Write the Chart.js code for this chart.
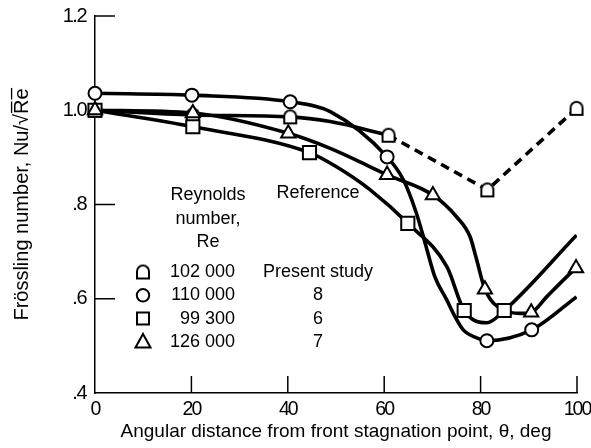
<!DOCTYPE html>
<html><head><meta charset="utf-8">
<script src="https://cdn.jsdelivr.net/npm/chart.js@4.4.1/dist/chart.umd.min.js"></script>
<style>html,body{margin:0;padding:0;background:#fff}#wrap{width:591px;height:448px}</style>
</head><body><div id="wrap"><canvas id="c" width="591" height="448"></canvas></div>
<script>
// ---- axis ticks ----
const xTicks = [0, 20, 40, 60, 80, 100];
const xTickLabels = ['0', '20', '40', '60', '80', '100'];
const yTicks = [0.4, 0.6, 0.8, 1.0, 1.2];
const yTickLabels = ['.4', '.6', '.8', '1.0', '1.2'];

// ---- legend table ----
const reynoldsNumbers = ['102 000', '110 000', '99 300', '126 000'];
const referenceLabels = ['Present study', '8', '6', '7'];

// ---- data points (angle, deg ; Frossling number) ----
const presentX = [0, 20.3, 40.5, 60.9, 81.4, 99.9];
const presentY = [1.0, 0.99, 0.986, 0.947, 0.831, 1.004];
const ref8X = [0, 20.1, 40.5, 60.6, 81.3, 90.6];
const ref8Y = [1.036, 1.032, 1.018, 0.901, 0.511, 0.534];
const ref6X = [0, 20.3, 44.5, 64.9, 76.6, 84.9];
const ref6Y = [1.0, 0.965, 0.910, 0.760, 0.575, 0.575];
const ref7X = [0, 20.3, 40.1, 60.6, 70.1, 80.9, 90.5, 99.8];
const ref7Y = [1.0, 0.994, 0.951, 0.863, 0.820, 0.620, 0.571, 0.665];

// ---- faired curves ----
const presentSolidX = [0, 20.3, 40.5, 48.8, 60.9];
const presentSolidY = [1.0, 0.99, 0.986, 0.976, 0.947];
const presentDashX = [60.9, 81.4, 99.9];
const presentDashY = [0.947, 0.831, 1.004];
const curve8X = [0, 20.1, 40.5, 48.8, 60.6, 64.0, 66.7, 68.5, 70.5, 73.0, 74.7, 76.4, 79.2, 81.3, 90.6, 99.9];
const curve8Y = [1.036, 1.032, 1.018, 0.997, 0.901, 0.852, 0.781, 0.718, 0.647, 0.597, 0.562, 0.534, 0.517, 0.511, 0.534, 0.604];
const curve6X = [0, 20.3, 44.5, 50.1, 57.1, 64.9, 73.0, 76.6, 81.3, 84.9, 99.9];
const curve6Y = [1.0, 0.965, 0.910, 0.880, 0.831, 0.760, 0.668, 0.575, 0.549, 0.575, 0.735];
const curve7X = [0, 20.3, 40.1, 48.8, 57.1, 60.6, 70.1, 75.0, 77.8, 79.2, 80.9, 84.9, 88.2, 90.5, 93.7, 97.9, 99.8];
const curve7Y = [1.0, 0.994, 0.951, 0.919, 0.880, 0.863, 0.820, 0.774, 0.732, 0.682, 0.620, 0.575, 0.569, 0.571, 0.604, 0.647, 0.665];

const pts = (xs, ys) => xs.map((x, i) => ({x, y: ys[i]}));
const FONT = "'Liberation Sans', Arial, sans-serif";

function makeArch(w, h, lw) {
  const c = document.createElement('canvas');
  c.width = w + lw * 2; c.height = h + lw * 2;
  const g = c.getContext('2d');
  const r = w / 2, cx = c.width / 2, top = lw, bottom = lw + h;
  g.beginPath();
  g.moveTo(cx - r, bottom); g.lineTo(cx - r, top + r);
  g.arc(cx, top + r, r, Math.PI, 0); g.lineTo(cx + r, bottom); g.closePath();
  g.fillStyle = '#fff'; g.fill();
  g.lineWidth = lw; g.strokeStyle = '#000'; g.stroke();
  return c;
}
const arch = makeArch(12, 13, 2);

const markerStyles = [
  {style: arch, r: 8},
  {style: 'circle', r: 6.5},
  {style: 'rect', r: 9.3},
  {style: 'triangle', r: 8.2}
];

function curve(xs, ys, extra) {
  return Object.assign({
    data: pts(xs, ys), showLine: true, pointRadius: 0, borderColor: '#000',
    borderWidth: 3.6, cubicInterpolationMode: 'monotone', fill: false, order: 2
  }, extra || {});
}
function markers(xs, ys, m) {
  return {
    data: pts(xs, ys), showLine: false, pointStyle: m.style, pointRadius: m.r,
    pointBackgroundColor: '#fff', pointBorderColor: '#000', pointBorderWidth: 2,
    order: 1, clip: false
  };
}

const labelSpacing = {x: '-2px', y: '-1.5px'};

const decor = {
  id: 'decor',
  afterLayout(chart) {
    // tighter letter spacing for the tick numerals (condensed look of the original)
    ['x', 'y'].forEach(id => {
      const s = chart.scales[id];
      if (s && !s._tightLabels) {
        const orig = s.drawLabels.bind(s);
        s.drawLabels = function (area) {
          const c = this.ctx; c.save(); c.letterSpacing = labelSpacing[id]; orig(area); c.restore();
        };
        s._tightLabels = true;
      }
    });
  },
  beforeDatasetsDraw(chart) {
    const {ctx, scales: {x, y}} = chart;
    ctx.save();
    ctx.strokeStyle = '#000'; ctx.lineWidth = 1.5;
    xTicks.slice(1).forEach(v => {
      const px = x.getPixelForValue(v);
      ctx.beginPath(); ctx.moveTo(px, y.bottom); ctx.lineTo(px, y.bottom - 17); ctx.stroke();
    });
    yTicks.slice(1).forEach(v => {
      const py = y.getPixelForValue(v);
      ctx.beginPath(); ctx.moveTo(x.left, py); ctx.lineTo(x.left + 20, py); ctx.stroke();
    });
    ctx.restore();
  },
  afterDraw(chart) {
    const {ctx, chartArea: a} = chart;
    ctx.save();
    ctx.fillStyle = '#000';
    ctx.font = '18px ' + FONT;
    ctx.textBaseline = 'middle';
    ctx.textAlign = 'center';
    const cReyn = a.left + 113, cRef = a.left + 223;
    ctx.fillText('Reynolds', cReyn, a.top + 179);
    ctx.fillText('number,', cReyn, a.top + 203);
    ctx.fillText('Re', cReyn, a.top + 226);
    ctx.fillText('Reference', cRef, a.top + 177);
    const mx = a.left + 48, numR = a.left + 140;
    reynoldsNumbers.forEach((t, i) => {
      const yy = a.top + 256 + i * 23.3;
      const m = markerStyles[i];
      ctx.save();
      ctx.lineWidth = 2; ctx.strokeStyle = '#000'; ctx.fillStyle = '#fff';
      if (m.style === 'circle') {
        ctx.beginPath(); ctx.arc(mx, yy, 6.2, 0, Math.PI * 2); ctx.fill(); ctx.stroke();
      } else if (m.style === 'rect') {
        ctx.beginPath(); ctx.rect(mx - 6, yy - 6, 12, 12); ctx.fill(); ctx.stroke();
      } else if (m.style === 'triangle') {
        ctx.beginPath(); ctx.moveTo(mx, yy - 8); ctx.lineTo(mx + 7.5, yy + 5.5); ctx.lineTo(mx - 7.5, yy + 5.5); ctx.closePath(); ctx.fill(); ctx.stroke();
      } else {
        ctx.drawImage(m.style, mx - m.style.width / 2, yy - m.style.height / 2);
      }
      ctx.restore();
      ctx.textAlign = 'right';
      ctx.fillText(t, numR, yy);
      ctx.textAlign = 'center';
      ctx.fillText(referenceLabels[i], cRef, yy);
    });
    ctx.restore();
  }
};

new Chart(document.getElementById('c'), {
  type: 'scatter',
  data: {
    datasets: [
      markers(ref7X, ref7Y, markerStyles[3]),
      markers(ref8X, ref8Y, markerStyles[1]),
      markers(ref6X, ref6Y, markerStyles[2]),
      markers(presentX, presentY, markerStyles[0]),
      curve(presentSolidX, presentSolidY),
      curve(presentDashX, presentDashY, {borderDash: [9, 6], cubicInterpolationMode: 'default', tension: 0}),
      curve(curve8X, curve8Y),
      curve(curve6X, curve6Y),
      curve(curve7X, curve7Y)
    ]
  },
  options: {
    responsive: false,
    devicePixelRatio: 1,
    animation: false,
    layout: {padding: {top: 16, right: 14, bottom: 0, left: 0}},
    plugins: {legend: {display: false}, tooltip: {enabled: false}},
    scales: {
      x: {
        type: 'linear', min: 0, max: 100,
        afterBuildTicks(s) { s.ticks = xTicks.map(v => ({value: v})); },
        afterFit(s) { s.height = 55; s.paddingLeft = 0; s.paddingRight = 0; },
        grid: {display: false, drawTicks: false},
        border: {display: true, color: '#000', width: 1.5},
        ticks: {
          padding: 5, color: '#000', font: {family: FONT, size: 19.5}, maxRotation: 0,
          callback: (v) => xTickLabels[xTicks.indexOf(v)]
        },
        title: {
          display: true, text: 'Angular distance from front stagnation point, \u03b8, deg',
          color: '#000', font: {family: FONT, size: 19}, padding: {top: 0, bottom: 5}
        }
      },
      y: {
        type: 'linear', min: 0.4, max: 1.2,
        afterBuildTicks(s) { s.ticks = yTicks.map(v => ({value: v})); },
        afterFit(s) { s.width = 95; s.paddingTop = 0; s.paddingBottom = 0; },
        grid: {display: false, drawTicks: false},
        border: {display: true, color: '#000', width: 1.5},
        ticks: {
          padding: 9, color: '#000', font: {family: FONT, size: 20},
          callback: (v) => yTickLabels[yTicks.findIndex(t => Math.abs(t - v) < 1e-9)]
        },
        title: {
          display: true, text: 'Fr\u00f6ssling number, Nu/\u221aR\u0305e\u0305',
          color: '#000', font: {family: FONT, size: 20}, padding: {top: 10, bottom: 0}
        }
      }
    }
  },
  plugins: [decor]
});
</script>
</body></html>
